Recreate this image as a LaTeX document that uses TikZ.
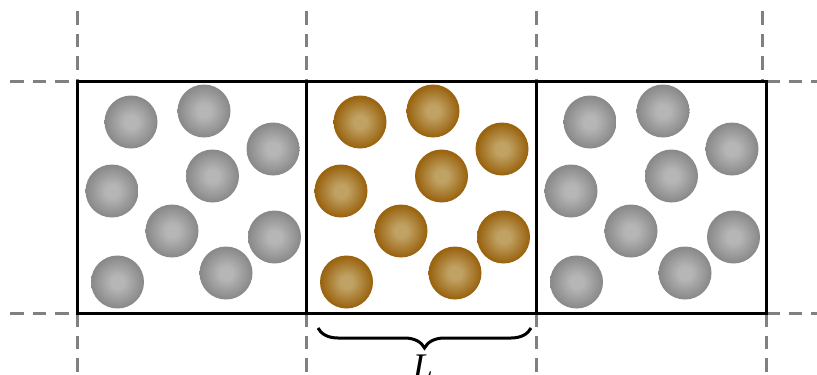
\documentclass[tikz,border=0pt]{standalone}
\usepackage{fontspec}
\setmainfont{Liberation Serif}
\usetikzlibrary{decorations.pathreplacing}
\definecolor{dashgrey}{HTML}{808080}
\definecolor{greyin}{HTML}{B6B6B6}
\definecolor{greyout}{HTML}{8A8A8A}
\definecolor{brownin}{HTML}{C0A264}
\definecolor{brownout}{HTML}{9A6410}
\pgfdeclareradialshading{greyballshade}{\pgfpoint{0bp}{0bp}}{%
  color(0bp)=(greyin); color(6bp)=(greyin); color(24bp)=(greyout); color(50bp)=(greyout)}
\pgfdeclareradialshading{brownballshade}{\pgfpoint{0bp}{0bp}}{%
  color(0bp)=(brownin); color(6bp)=(brownin); color(24bp)=(brownout); color(50bp)=(brownout)}
\tikzset{
  guide/.style={draw=dashgrey, line width=3pt, dash pattern=on 13.5pt off 9pt},
  cell/.style={draw=black, line width=3pt},
  greyball/.style={shading=greyballshade},
  brownball/.style={shading=brownballshade},
  bracestyle/.style={draw=black, line width=3pt, decorate,
    decoration={brace, mirror, amplitude=20pt}},
}
\newcommand{\ballset}[2]{%
  \foreach \dx/\dy in {54/41, 127/30, 196/68, 35/110, 135.5/95, 95/150, 197.5/156, 40.5/201, 149/192}
    {\shade[#2] (#1+\dx, 81+\dy) circle[radius=26.5pt];}%
}
\begin{document}
\begin{tikzpicture}[x=1pt, y=-1pt]
\useasboundingbox (0,0) rectangle (817,375);
% dashed guides
\foreach \gx in {77,306,536} {\draw[guide] (\gx,11) -- (\gx,81);}
\draw[guide] (762,11) -- (762,81);
\foreach \gx in {77,306,536,766} {\draw[guide] (\gx,313) -- (\gx,380);}
\draw[guide] (10,81) -- (77,81);
\draw[guide] (10,313) -- (77,313);
\draw[guide] (766,81) -- (825,81);
\draw[guide] (766,313) -- (825,313);
% spheres
\ballset{77}{greyball}
\ballset{306}{brownball}
\ballset{536}{greyball}
% cells
\draw[cell] (77,81) rectangle (306,313);
\draw[cell] (306,81) rectangle (536,313);
\draw[cell] (536,81) rectangle (766,313);
% brace and label
\coordinate (bl) at (318,328);
\coordinate (br) at (531,328);
\draw[bracestyle] (bl) -- (br);
\node[anchor=north, inner sep=0pt, font=\fontsize{36}{36}\selectfont\itshape] (lab) at (423,355) {L};
\end{tikzpicture}
\end{document}
